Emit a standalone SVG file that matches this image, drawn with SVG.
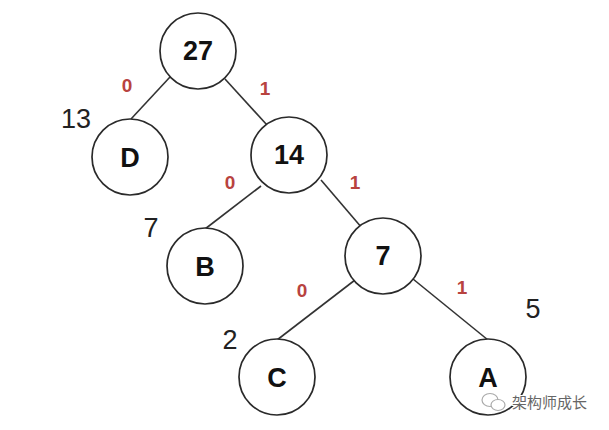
<svg xmlns="http://www.w3.org/2000/svg" width="609" height="430" viewBox="0 0 609 430">
<style>
.n{fill:#fff;stroke:#2a2a2a;stroke-width:1.7}
.t{font-family:"Liberation Sans",Arial,sans-serif;font-weight:bold;font-size:27px;fill:#111;text-anchor:middle}
.w{font-family:"Liberation Sans",Arial,sans-serif;font-size:27px;fill:#222;text-anchor:middle}
.b{font-family:"Liberation Sans",Arial,sans-serif;font-weight:bold;font-size:19px;fill:#b8433f;text-anchor:middle}
.e{stroke:#333;stroke-width:1.6;fill:none}
.ic{fill:#fff;stroke:#aaa;stroke-width:1.2}
</style>
<rect width="609" height="430" fill="#fff"/>
<g id="connectors">
<line class="e" x1="170" y1="77" x2="131" y2="119"/>
<line class="e" x1="225" y1="79" x2="267" y2="125"/>
<line class="e" x1="261" y1="186" x2="205" y2="229"/>
<line class="e" x1="321" y1="180" x2="362" y2="228"/>
<line class="e" x1="355" y1="280" x2="277" y2="340"/>
<line class="e" x1="413" y1="279" x2="488" y2="340"/>
<text class="b" x="127" y="92">0</text>
<text class="b" x="265" y="95">1</text>
<text class="b" x="230" y="189">0</text>
<text class="b" x="355" y="189">1</text>
<text class="b" x="302" y="297">0</text>
<text class="b" x="462" y="294">1</text>
</g>
<g id="n27"><circle class="n" cx="198" cy="51" r="38"/><text class="t" x="198" y="60">27</text></g>
<g id="nD"><circle class="n" cx="130" cy="157" r="38"/><text class="t" x="130" y="167">D</text><text class="w" x="76" y="128">13</text></g>
<g id="n14"><circle class="n" cx="289" cy="155" r="38"/><text class="t" x="289" y="164">14</text></g>
<g id="nB"><circle class="n" cx="205" cy="266" r="38"/><text class="t" x="205" y="276">B</text><text class="w" x="151" y="237">7</text></g>
<g id="n7"><circle class="n" cx="383" cy="256" r="38"/><text class="t" x="383" y="265">7</text></g>
<g id="nC"><circle class="n" cx="277" cy="377" r="38"/><text class="t" x="277" y="387">C</text><text class="w" x="230" y="349">2</text></g>
<g id="nA"><circle class="n" cx="488" cy="377" r="38"/><text class="t" x="488" y="387">A</text><text class="w" x="533" y="318">5</text></g>
<g id="watermark">
<ellipse class="ic" cx="490" cy="400" rx="8" ry="6.5"/>
<ellipse class="ic" cx="498" cy="405" rx="7" ry="5.5"/>
<text x="512" y="408" font-family="'Noto Sans CJK SC',sans-serif" font-size="15" fill="#666" stroke="#fff" stroke-width="2" paint-order="stroke">架构师成长</text>
</g>
</svg>
